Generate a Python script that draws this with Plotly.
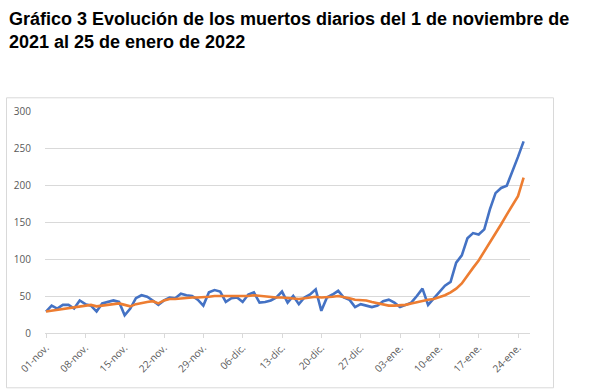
import pandas as pd
import plotly.graph_objects as go

# ---- data ----
start_date = "2021-11-01"
n_days = 86
dates = pd.date_range(start_date, periods=n_days, freq="D")

muertos_diarios = [
    29, 37, 33, 38, 38, 33, 44, 39, 37, 29,
    40, 42, 44, 42, 24, 33, 47, 51, 49, 44,
    38, 44, 48, 47, 53, 51, 50, 45, 37, 55,
    58, 56, 42, 47, 48, 42, 52, 55, 41, 42,
    44, 48, 56, 41, 50, 39, 48, 52, 59, 30,
    48, 52, 57, 48, 45, 35, 39, 37, 35, 37,
    43, 45, 41, 35, 38, 41, 50, 60, 38, 47,
    55, 64, 69, 95, 105, 128, 135, 133, 140, 167,
    189, 196, 199, 218, 238, 259,
]

media_movil = [
    29, 30, 31, 32, 33, 34, 35, 37, 38, 36,
    37, 38, 39, 40, 38, 36, 39, 41, 42, 43,
    40, 44, 46, 46, 47, 47, 48, 48, 48, 49,
    50, 50, 49, 49, 49, 49, 50, 51, 50, 49,
    48, 48, 48, 47, 47, 46, 47, 48, 49, 48,
    48, 49, 50, 49, 47, 45, 45, 44, 42, 40,
    38, 37, 37, 37, 38, 40, 42, 44, 45, 46,
    48, 51, 55, 60, 67, 78, 88, 98, 110, 122,
    134, 147, 160, 172, 185, 210,
]

tick_dates = ["2021-11-01", "2021-11-08", "2021-11-15", "2021-11-22", "2021-11-29",
              "2021-12-06", "2021-12-13", "2021-12-20", "2021-12-27", "2022-01-03",
              "2022-01-10", "2022-01-17", "2022-01-24"]
tick_labels = ["01-nov.", "08-nov.", "15-nov.", "22-nov.", "29-nov.",
               "06-dic.", "13-dic.", "20-dic.", "27-dic.", "03-ene.",
               "10-ene.", "17-ene.", "24-ene."]

y_ticks = [0, 50, 100, 150, 200, 250, 300]

title_text = ("Gráfico 3 Evolución de los muertos diarios del 1 de noviembre de<br>"
              "2021 al 25 de enero de 2022")

# ---- layout geometry (pixels) ----
W, H = 601, 390
PL, PR = 45, 530          # plot area left/right
PT, PB = 110.7, 332.7     # plot area top/bottom
px_per_day = 5.619
first_px = 46

def px_to_px(x):
    return (x - PL) / (PR - PL)

def py_to_py(y):
    return (PB - y) / (PB - PT)

t0 = pd.Timestamp(start_date)
r0 = t0 - pd.Timedelta(days=(first_px - PL) / px_per_day)
r1 = r0 + pd.Timedelta(days=(PR - PL) / px_per_day)

fig = go.Figure()
fig.add_trace(go.Scatter(x=dates, y=muertos_diarios, mode="lines",
                         line=dict(color="#4472C4", width=2.6),
                         name="Muertos diarios", hoverinfo="x+y"))
fig.add_trace(go.Scatter(x=dates, y=media_movil, mode="lines",
                         line=dict(color="#ED7D31", width=2.6),
                         name="Media", hoverinfo="x+y"))

axis_font = dict(family="Open Sans, Liberation Sans, sans-serif", size=10, color="#595959")

fig.update_layout(
    width=W, height=H,
    margin=dict(l=PL, r=W - PR, t=PT, b=H - PB, pad=0),
    paper_bgcolor="white", plot_bgcolor="white",
    showlegend=False,
    xaxis=dict(type="date", range=[r0, r1],
               tickvals=tick_dates, ticktext=tick_labels,
               tickangle=-45, tickfont=axis_font,
               showgrid=False, zeroline=False,
               showline=True, linecolor="#D9D9D9", linewidth=1,
               ticks="outside", ticklen=4, tickcolor="#D9D9D9"),
    yaxis=dict(range=[0, 300], tickvals=y_ticks, tickfont=axis_font,
               showgrid=True, gridcolor="#D9D9D9", gridwidth=1,
               zeroline=False, showline=False, ticks="",
               ticklabelstandoff=13),
    annotations=[dict(text="<b>" + title_text + "</b>",
                      xref="paper", yref="paper",
                      x=px_to_px(7), y=py_to_py(7),
                      xanchor="left", yanchor="top", align="left",
                      showarrow=False,
                      font=dict(family="Liberation Sans, Arial, sans-serif",
                                size=18, color="black"))],
    shapes=[dict(type="rect", xref="paper", yref="paper",
                 x0=px_to_px(6.5), x1=px_to_px(553.5),
                 y0=py_to_py(387.5), y1=py_to_py(97.5),
                 line=dict(color="#D9D9D9", width=1), layer="above")],
)

fig.write_html("out.html",
               config={"displayModeBar": False},
               post_script="document.body.style.margin='0';document.body.style.overflow='hidden';")
